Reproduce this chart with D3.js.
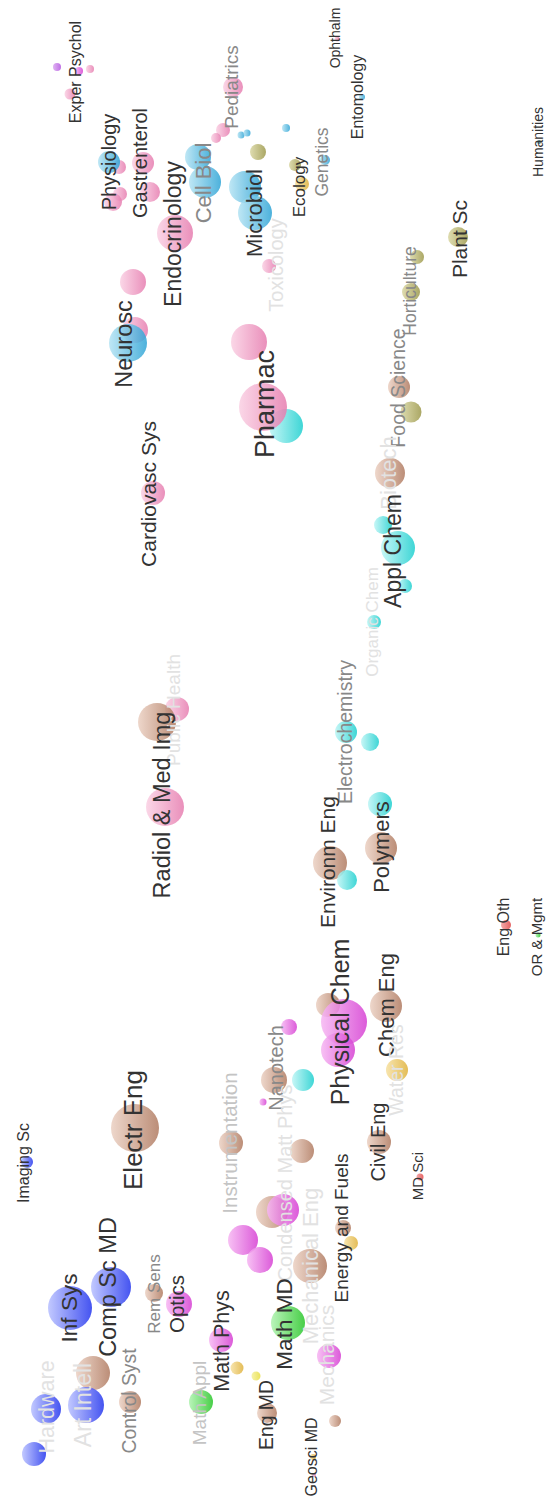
<!DOCTYPE html>
<html>
<head>
<meta charset="utf-8">
<script src="https://cdn.jsdelivr.net/npm/d3@7"></script>
<style>
  body { margin: 0; background: #fff; }
  svg { display: block; }
</style>
</head>
<body>
<div id="map"></div>
<script>
var width = 546, height = 1501;

// colour groups: light side, dark side
var groupLight = ["#fad0e3", "#b4e3f3", "#bdf5f5", "#ebd0c2", "#d9d6a2", "#b8c0ff", "#f6b6f2", "#aef2ae", "#f6e0a0", "#d9a6f0", "#f29a9a", "#f5f09a", "#6fa8a8"];
var groupDark  = ["#e67caf", "#2ea4d6", "#1dcfcf", "#b07a60", "#9c984a", "#2436ee", "#d63fd3", "#28c628", "#dfb13a", "#b455e0", "#e04848", "#e8de40", "#1e5e60"];

// bubbles (map position, radius, group)
var bubbleX = [57, 79, 90, 70, 233, 223, 216, 241, 247, 258, 119, 120, 113, 109, 143, 150, 175, 198, 205, 245, 255, 286, 295, 302, 325, 362, 337, 539, 458, 269,
  133, 135, 128, 249, 286, 263, 153, 417, 411, 399, 411, 390, 383, 398, 405, 374, 346, 370, 177, 157, 165, 380, 381, 330, 347, 506, 538,
  386, 328, 344, 338, 289, 303, 274, 263, 397, 302, 379, 420, 272, 283, 343, 351, 27, 135, 231, 243, 260,
  70, 111, 154, 179, 221, 237, 256, 93, 86, 130, 46, 34, 201, 267, 288, 310, 329, 335, 313, 314];
var bubbleY = [67, 71, 69, 94, 87, 130, 138, 135, 133, 152, 167, 194, 202, 162, 163, 192, 233, 157, 182, 187, 213, 128, 165, 184, 160, 97, 39, 142, 237, 266,
  282, 330, 343, 342, 426, 407, 493, 257, 292, 387, 412, 473, 525, 548, 586, 622, 732, 742, 709, 722, 807, 804, 848, 863, 880, 925, 935,
  1006, 1005, 1022, 1050, 1027, 1080, 1080, 1102, 1070, 1151, 1142, 1177, 1212, 1210, 1228, 1243, 1162, 1128, 1143, 1240, 1260,
  1308, 1287, 1293, 1304, 1340, 1368, 1376, 1373, 1405, 1402, 1409, 1454, 1402, 1413, 1323, 1266, 1356, 1421, 1457, 1475];
var bubbleR = [4, 4, 4, 5.5, 10, 7, 5, 3.5, 3.5, 8, 7, 7, 9, 11, 11, 10, 18, 13, 16, 16, 17, 4, 6, 7, 5, 3, 2.5, 2, 10, 7,
  13, 13, 19, 18, 17, 24, 12, 7, 9, 11, 10.5, 15, 9, 17, 7, 7, 11, 9, 12, 19, 19, 12, 16, 17, 10, 5, 2.5,
  16, 12, 23, 17, 8, 11, 13, 3.5, 11, 12, 12, 3.5, 16, 16, 8, 7, 6, 24, 12, 15, 13,
  22, 20, 9, 13, 12, 6.5, 4.5, 17, 18, 11, 15, 12, 12, 10, 17, 17, 12, 6, 3, 2];
var bubbleGroup = [9, 6, 0, 0, 0, 0, 0, 1, 1, 4, 0, 0, 0, 1, 0, 0, 0, 1, 1, 1, 1, 1, 4, 8, 1, 1, 0, 12, 4, 0,
  0, 0, 1, 0, 2, 0, 0, 4, 4, 3, 4, 3, 2, 2, 2, 2, 2, 2, 0, 3, 0, 2, 3, 3, 2, 10, 7,
  3, 3, 6, 6, 6, 2, 3, 6, 8, 3, 3, 10, 3, 6, 3, 8, 5, 3, 3, 6, 6,
  5, 5, 3, 6, 6, 8, 11, 3, 5, 3, 5, 5, 7, 3, 7, 3, 6, 3, 8, 0];

// labels
var labelText = ["Exper Psychol", "Pediatrics", "Ophthalm", "Entomology", "Humanities", "Physiology", "Gastrenterol", "Endocrinology", "Cell Biol", "Microbiol",
  "Toxicology", "Ecology", "Genetics", "Plant Sc", "Horticulture", "Food Science", "Biotech", "Appl Chem", "Organic Chem", "Electrochemistry",
  "Cardiovasc Sys", "Neurosc", "Pharmac", "Public Health", "Radiol & Med Img", "Environm Eng", "Polymers", "Eng Oth", "OR & Mgmt", "Physical Chem",
  "Chem Eng", "Water Res", "Civil Eng", "MD Sci", "Nanotech", "Condensed Matt Phys", "Mechanical Eng", "Mechanics", "Energy and Fuels", "Instrumentation",
  "Imaging Sc", "Comp Sc MD", "Inf Sys", "Electr Eng", "Rem Sens", "Optics", "Control Syst", "Art Intell", "Hardware", "Math Appl",
  "Math Phys", "Math MD", "Eng MD", "Geosci MD"];
var labelX = [75, 231, 335, 357, 538, 109, 140, 173, 203, 254,
  276, 299, 322, 460, 410, 398, 388, 393, 372, 345,
  149, 124, 265, 173, 162, 328, 381, 503, 537, 340,
  386, 396, 378, 418, 276, 285, 310, 327, 341, 230,
  23, 108, 69, 133, 154, 177, 129, 83, 46, 199,
  221, 284, 266, 311];
var labelY = [72, 87, 38, 97, 142, 162, 163, 234, 183, 213,
  265, 187, 162, 239, 291, 388, 473, 551, 622, 732,
  494, 344, 404, 710, 805, 862, 847, 927, 937, 1022,
  1005, 1070, 1142, 1176, 1068, 1183, 1266, 1355, 1228, 1143,
  1163, 1287, 1308, 1130, 1294, 1304, 1401, 1405, 1407, 1403,
  1341, 1324, 1415, 1457];
var labelSize = [16, 19, 14, 16, 14, 20, 20, 23, 22, 22,
  20, 17, 17.5, 21, 17.5, 19.5, 22, 23, 17, 19.5,
  21, 23.5, 27, 19, 23.5, 21, 22, 16, 15, 25,
  22, 19.5, 20, 15, 20, 20, 22, 21, 19, 20.5,
  16, 23.5, 22.5, 26, 17, 20.5, 19.3, 23, 21.5, 19,
  21.5, 22.5, 19.4, 16];
// 0 dark, 1 grey, 2 light grey, 3 faint
var labelTone = [0, 1, 0, 0, 0, 0, 0, 0, 1, 0,
  3, 0, 1, 0, 1, 1, 3, 0, 3, 1,
  0, 0, 0, 3, 0, 0, 0, 0, 0, 0,
  0, 3, 0, 0, 1, 3, 3, 3, 0, 2,
  0, 0, 0, 0, 1, 0, 1, 3, 3, 2,
  0, 0, 0, 0];
var toneColour = ["#333333", "#888888", "#c4c4c4", "#e2e2e2"];

var x = d3.scaleLinear().domain([0, 546]).range([0, width]);
var y = d3.scaleLinear().domain([0, 1501]).range([0, height]);
var r = d3.scaleLinear().domain([0, 24]).range([0, 24]);

var svg = d3.select("#map").append("svg")
  .attr("width", width)
  .attr("height", height);

svg.append("rect").attr("width", width).attr("height", height).attr("fill", "#fff");

// shaded gradients, light on the left
var defs = svg.append("defs");
groupLight.forEach(function(c, i) {
  var g = defs.append("linearGradient")
    .attr("id", "grad" + i)
    .attr("x1", "0%").attr("y1", "0%")
    .attr("x2", "100%").attr("y2", "0%");
  g.append("stop").attr("offset", "0%").attr("stop-color", c);
  g.append("stop").attr("offset", "100%").attr("stop-color", groupDark[i]);
});

var bubbles = d3.range(bubbleX.length);

svg.append("g").selectAll("circle")
  .data(bubbles)
  .join("circle")
  .attr("cx", function(i) { return x(bubbleX[i]); })
  .attr("cy", function(i) { return y(bubbleY[i]); })
  .attr("r", function(i) { return r(bubbleR[i]); })
  .attr("fill", function(i) { return "url(#grad" + bubbleGroup[i] + ")"; })
  .attr("fill-opacity", 0.85);

var labels = d3.range(labelText.length);

svg.append("g").selectAll("text")
  .data(labels)
  .join("text")
  .attr("transform", function(i) { return "translate(" + x(labelX[i]) + "," + y(labelY[i]) + ") rotate(-90)"; })
  .attr("text-anchor", "middle")
  .attr("dy", "0.35em")
  .style("font-family", "'Liberation Sans', Arial, sans-serif")
  .style("font-size", function(i) { return labelSize[i] + "px"; })
  .attr("fill", function(i) { return toneColour[labelTone[i]]; })
  .text(function(i) { return labelText[i]; });
</script>
</body>
</html>
